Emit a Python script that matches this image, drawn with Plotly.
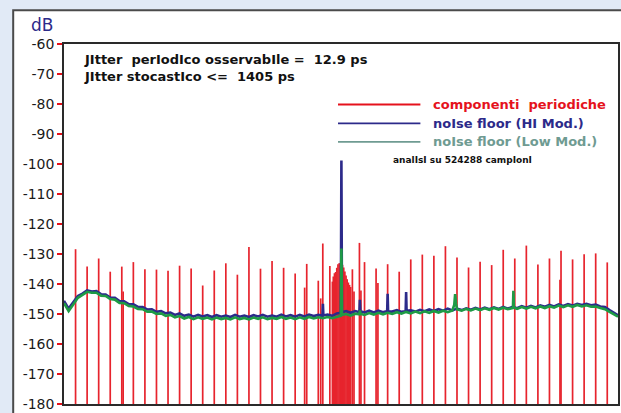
import plotly.graph_objects as go

# ---- axis scale ---------------------------------------------------------
Y_MIN, Y_MAX = -180, -60
X_MAX = 47.93
y_tickvals = [-60, -70, -80, -90, -100, -110, -120, -130, -140, -150, -160, -170, -180]
y_ticktext = ["-60", "-70", "-80", "-90", "-100", "-110", "-120", "-130", "-140",
              "-150", "-160", "-170", "-180"]

# ---- periodic components (spectral lines, dB) ---------------------------
spike_u = [1, 2, 3, 4, 5, 5.12, 6, 7, 8, 9, 10, 11, 12, 13, 14, 15, 16, 17, 18, 19, 20,
           20.82, 21, 22, 22.21, 22.39, 23, 23.22,
           23.30, 23.40, 23.50, 23.60, 23.70, 23.80, 23.90, 24.00,
           24.10, 24.20, 24.30, 24.40, 24.50, 24.60, 24.70, 24.80,
           24.95, 25.09, 25.56, 25.69, 26, 27, 27.16, 28, 29, 30, 31, 32, 33, 34, 35,
           36, 37, 38, 39, 40, 41, 42, 42.91, 43, 44, 45, 46, 47]
spike_db = [-128.4, -134.2, -131.5, -135.9, -134.2, -142.5, -132.7, -135.1, -135.2, -135.6,
            -133.9, -134.8, -140.5, -135.5, -133.1, -136.9, -127.7, -134.9, -132.3, -134.6,
            -136.5,
            -141.2, -133.3, -138.9, -144.8, -126.5, -134.0, -139.2,
            -137.5, -136.4, -136.0, -134.6, -133.4, -133.1, -133.0, -133.3,
            -133.6, -134.5, -135.8, -137.2, -138.4, -139.5, -140.3, -141.0,
            -135.1, -142.5, -126.3, -142.2, -132.7, -134.8, -139.7, -133.4, -135.9, -131.8,
            -130.2, -130.6, -127.4, -131.2, -134.5,
            -132.6, -133.7, -128.6, -131.5, -127.2, -133.5, -131.5, -138.6, -128.9, -131.8,
            -130.1, -129.8, -132.8]

# ---- noise floor, HI modulation (dB on a 0.4 step grid) ------------------
floor_u = [round(0.4 * i, 2) for i in range(120)]
hi_db = [-145.6, -148.2, -146.1, -144.0, -143.2, -142.1, -142.5, -142.4, -143.4, -143.5,
         -144.5, -144.6, -145.7, -145.8, -146.7, -146.8, -147.6, -147.7, -148.5, -148.4,
         -149.3, -149.0, -149.8, -149.5, -150.3, -149.8, -150.6, -150.2, -150.9, -150.3,
         -150.8, -150.4, -151.0, -150.4, -150.9, -150.5, -151.0, -150.3, -150.9, -150.5,
         -151.0, -150.4, -150.8, -150.3, -150.9, -150.5, -150.9, -150.2, -150.8, -150.4,
         -150.9, -150.3, -150.8, -150.2, -150.7, -150.3, -146.6, -150.2, -150.6, -149.8,
         -98.8, -149.0, -149.6, -149.0, -145.3, -149.5, -148.9, -149.5, -148.9, -149.4,
         -143.3, -149.2, -148.7, -149.3, -142.7, -148.8, -149.2, -148.6, -149.1, -148.5,
         -149.0, -148.4, -148.9, -148.2, -148.8, -148.2, -148.7, -148.1, -148.6, -148.0,
         -148.5, -147.9, -148.4, -147.8, -148.3, -147.6, -148.2, -147.6, -148.1, -147.4,
         -147.9, -147.3, -147.8, -147.1, -147.6, -147.0, -147.5, -146.8, -147.3, -146.7,
         -147.2, -146.6, -147.0, -146.6, -147.1, -146.9, -147.5, -147.7, -148.7, -149.5]
hi_extra_u = [22.36, 22.44, 23.95, 24.05, 25.56, 25.64, 27.96, 28.04, 29.56, 29.64, 47.93]
hi_extra_db = [-150.6, -150.5, -149.6, -149.4, -149.4, -149.1, -149.0, -149.2, -149.1,
               -148.9, -150.4]

# ---- noise floor, Low modulation ----------------------------------------
low_db = [-146.4, -149.0, -146.8, -144.6, -143.6, -142.6, -142.9, -142.9, -143.9, -144.0,
          -145.0, -145.2, -146.3, -146.4, -147.3, -147.5, -148.3, -148.4, -149.2, -149.2,
          -150.0, -149.8, -150.6, -150.3, -151.1, -150.7, -151.5, -151.0, -151.7, -151.1,
          -151.6, -151.2, -151.8, -151.2, -151.7, -151.3, -151.8, -151.1, -151.7, -151.3,
          -151.8, -151.2, -151.6, -151.1, -151.7, -151.3, -151.6, -151.0, -151.6, -151.2,
          -151.7, -151.1, -151.6, -151.0, -151.5, -151.1, -151.4, -151.0, -151.4, -150.9,
          -128.2, -150.0, -150.5, -149.9, -148.8, -150.3, -149.7, -150.2, -149.6, -150.1,
          -149.6, -150.0, -149.4, -149.9, -149.3, -149.8, -149.2, -149.7, -149.1, -149.6,
          -149.0, -149.5, -148.9, -149.4, -148.8, -148.4, -148.9, -148.3, -148.8, -148.2,
          -148.7, -148.1, -148.6, -148.0, -148.5, -147.9, -148.4, -147.8, -148.3, -147.7,
          -148.2, -147.6, -148.1, -147.5, -148.0, -147.4, -147.9, -147.2, -147.7, -147.1,
          -147.6, -147.0, -147.5, -147.1, -147.6, -147.5, -148.0, -148.4, -149.3, -150.1]
low_extra_u = [23.95, 24.05, 25.56, 25.64, 33.76, 33.84, 33.92, 38.84, 38.88, 38.92, 47.93]
low_extra_db = [-150.6, -150.3, -150.1, -149.9, -147.0, -143.4, -146.5, -148.0, -142.3,
                -147.8, -150.9]

# ---- colours ------------------------------------------------------------
RED = "#E5121C"
NAVY = "#2C2A8A"
GREEN = "#1E9B45"
TEAL = "#6F9B92"
PAGE_BG = "#E1EAF6"


def merged(grid, vals, ex_u, ex_v):
    pts = sorted(zip(list(grid) + list(ex_u), list(vals) + list(ex_v)))
    return [p[0] for p in pts], [p[1] for p in pts]


fig = go.Figure()

# vertical lines for the periodic components, rising from the bottom of the scale
sx, sy = [], []
for u, d in zip(spike_u, spike_db):
    sx += [u, u, None]
    sy += [Y_MIN, d, None]
fig.add_trace(go.Scatter(x=sx, y=sy, mode="lines", line=dict(color=RED, width=1.7),
                         opacity=0.92, hoverinfo="skip", showlegend=False))

hx, hy = merged(floor_u, hi_db, hi_extra_u, hi_extra_db)
fig.add_trace(go.Scatter(x=hx, y=hy, mode="lines", line=dict(color=NAVY, width=2.6),
                         hoverinfo="skip", showlegend=False))

lx, ly = merged(floor_u, low_db, low_extra_u, low_extra_db)
fig.add_trace(go.Scatter(x=lx, y=ly, mode="lines", line=dict(color=GREEN, width=2.6),
                         hoverinfo="skip", showlegend=False))

NB = "\u00a0"
shapes = [
    # white panel behind the chart
    dict(type="rect", xref="paper", yref="paper", x0=-0.0917, x1=1.02, y0=-0.05, y1=1.0937,
         fillcolor="white", line=dict(color="#4A4A4A", width=2), layer="below"),
    # legend samples
    dict(type="line", xref="paper", yref="paper", x0=0.4946, x1=0.6433, y0=0.832, y1=0.832,
         line=dict(color=RED, width=1.8)),
    dict(type="line", xref="paper", yref="paper", x0=0.4946, x1=0.6433, y0=0.7796, y1=0.7796,
         line=dict(color=NAVY, width=1.8)),
    dict(type="line", xref="paper", yref="paper", x0=0.4946, x1=0.6433, y0=0.7281, y1=0.7281,
         line=dict(color=TEAL, width=1.8)),
]

BOLD = "DejaVu Sans"
annotations = [
    dict(text="dB", x=-0.0396, y=1.021, xref="paper", yref="paper", showarrow=False,
         xanchor="center", yanchor="bottom", borderpad=0,
         font=dict(family="DejaVu Sans", size=17, color=NAVY)),
    dict(text=f"<b>JItter{NB}{NB}perIodIco osservabIle ={NB}{NB}12.9 ps</b>", x=0.0324, y=0.956,
         xref="paper", yref="paper", showarrow=False, xanchor="left", yanchor="middle",
         font=dict(family=BOLD, size=13, color="#111111")),
    dict(text=f"<b>JItter stocastIco &lt;={NB}{NB}1405 ps</b>", x=0.0324, y=0.909,
         xref="paper", yref="paper", showarrow=False, xanchor="left", yanchor="middle",
         font=dict(family=BOLD, size=13, color="#111111")),
    dict(text=f"<b>componenti{NB}{NB}periodiche</b>", x=0.6631, y=0.832, xref="paper",
         yref="paper", showarrow=False, xanchor="left", yanchor="middle",
         font=dict(family=BOLD, size=13, color=RED)),
    dict(text="<b>noIse floor (HI Mod.)</b>", x=0.6631, y=0.7796, xref="paper", yref="paper",
         showarrow=False, xanchor="left", yanchor="middle",
         font=dict(family=BOLD, size=13, color=NAVY)),
    dict(text="<b>noIse floor (Low Mod.)</b>", x=0.6631, y=0.7281, xref="paper", yref="paper",
         showarrow=False, xanchor="left", yanchor="middle",
         font=dict(family=BOLD, size=13, color=TEAL)),
    dict(text="<b>analIsI su 524288 campIonI</b>", x=0.5894, y=0.6777, xref="paper",
         yref="paper", showarrow=False, xanchor="left", yanchor="middle",
         font=dict(family=BOLD, size=9, color="#111111")),
]

fig.update_layout(
    width=621, height=413,
    margin=dict(l=64, r=1, t=44, b=6, pad=0),
    paper_bgcolor=PAGE_BG, plot_bgcolor="white",
    shapes=shapes, annotations=annotations, showlegend=False,
    xaxis=dict(range=[0, X_MAX], showticklabels=False, ticks="", showgrid=False,
               zeroline=False, showline=True, mirror=True, linecolor="#2A2A2A", linewidth=1.5),
    yaxis=dict(range=[Y_MIN, Y_MAX], tickvals=y_tickvals, ticktext=y_ticktext,
               ticks="outside", ticklen=5, tickwidth=1.5, tickcolor=RED,
               ticklabeloverflow="allow",
               tickfont=dict(family="DejaVu Sans", size=14, color="#1A1A1A"),
               showgrid=False, zeroline=False, showline=True, mirror=True,
               linecolor="#2A2A2A", linewidth=1.5),
)

fig.write_html("out.html")
